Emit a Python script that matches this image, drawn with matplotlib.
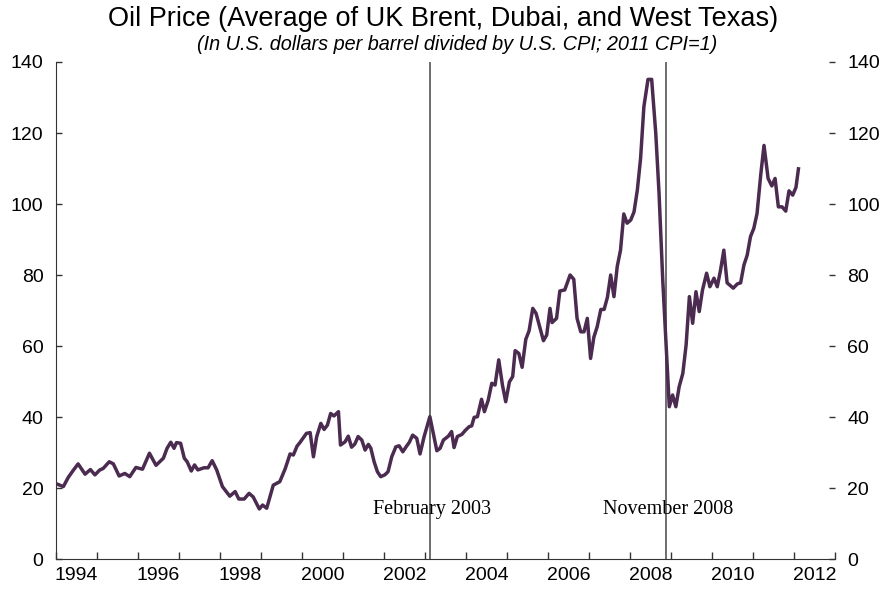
import numpy as np
import matplotlib.pyplot as plt

# monthly-ish readings, decimal year and real oil price (2011 dollars)
dates = [1994.03, 1994.18, 1994.30, 1994.41, 1994.54, 1994.71, 1994.84, 1994.95,
         1995.07, 1995.15, 1995.30, 1995.40, 1995.54, 1995.68, 1995.80, 1995.95,
         1996.11, 1996.28, 1996.44, 1996.62, 1996.71, 1996.80, 1996.88, 1996.94,
         1997.04, 1997.13, 1997.20, 1997.30, 1997.38, 1997.46, 1997.61, 1997.71,
         1997.81, 1997.92, 1998.06, 1998.24, 1998.37, 1998.46, 1998.59, 1998.71,
         1998.81, 1998.96, 1999.04, 1999.14, 1999.30, 1999.46, 1999.59, 1999.71,
         1999.79, 1999.88, 1999.95, 2000.11, 2000.20, 2000.28, 2000.36, 2000.46,
         2000.54, 2000.62, 2000.70, 2000.78, 2000.89, 2000.94, 2001.05, 2001.13,
         2001.21, 2001.29, 2001.37, 2001.46, 2001.54, 2001.62, 2001.68, 2001.76,
         2001.84, 2001.92, 2002.02, 2002.10, 2002.19, 2002.29, 2002.37, 2002.46,
         2002.54, 2002.62, 2002.70, 2002.80, 2002.88, 2002.98, 2003.12, 2003.29,
         2003.37, 2003.45, 2003.57, 2003.65, 2003.71, 2003.79, 2003.90, 2003.99,
         2004.08, 2004.14, 2004.20, 2004.28, 2004.38, 2004.45, 2004.54, 2004.63,
         2004.71, 2004.80, 2004.89, 2004.97, 2005.06, 2005.14, 2005.20, 2005.29,
         2005.37, 2005.46, 2005.54, 2005.63, 2005.71, 2005.89, 2005.97, 2006.05,
         2006.10, 2006.21, 2006.29, 2006.41, 2006.54, 2006.63, 2006.71, 2006.80,
         2006.88, 2006.96, 2007.04, 2007.12, 2007.20, 2007.29, 2007.37, 2007.45,
         2007.53, 2007.61, 2007.69, 2007.77, 2007.85, 2007.93, 2008.02, 2008.10,
         2008.18, 2008.26, 2008.34, 2008.44, 2008.53, 2008.63, 2008.71, 2008.80,
         2008.88, 2008.96, 2009.04, 2009.12, 2009.20, 2009.29, 2009.37, 2009.45,
         2009.53, 2009.61, 2009.69, 2009.77, 2009.87, 2009.95, 2010.05, 2010.13,
         2010.21, 2010.29, 2010.37, 2010.52, 2010.62, 2010.70, 2010.78, 2010.86,
         2010.94, 2011.02, 2011.10, 2011.19, 2011.27, 2011.37, 2011.46, 2011.54,
         2011.62, 2011.71, 2011.80, 2011.88, 2011.97, 2012.05, 2012.11]
price = [21.1, 20.4, 23.0, 24.8, 26.8, 23.9, 25.2, 23.7,
         25.1, 25.5, 27.4, 26.8, 23.4, 24.1, 23.2, 25.8,
         25.3, 29.8, 26.4, 28.4, 31.2, 32.9, 31.2, 32.8,
         32.6, 28.4, 27.4, 24.8, 26.5, 25.1, 25.7, 25.7,
         27.7, 25.1, 20.4, 17.7, 19.0, 16.9, 16.9, 18.5,
         17.5, 14.1, 15.2, 14.3, 20.8, 21.8, 25.4, 29.6,
         29.3, 31.8, 32.8, 35.4, 35.6, 28.8, 34.5, 38.2,
         36.5, 37.7, 41.0, 40.3, 41.5, 32.1, 33.0, 34.6,
         31.5, 32.4, 34.5, 33.5, 30.7, 32.3, 31.2, 27.4,
         24.6, 23.2, 23.7, 24.6, 28.8, 31.6, 31.9, 30.2,
         31.6, 32.9, 34.9, 34.0, 29.6, 34.5, 40.1, 30.5,
         31.2, 33.5, 34.6, 35.9, 31.4, 34.5, 35.1, 36.3,
         37.3, 37.5, 39.9, 40.1, 45.0, 41.5, 44.6, 49.5,
         49.0, 56.1, 49.0, 44.3, 49.9, 51.4, 58.7, 57.9,
         54.0, 61.9, 64.3, 70.6, 69.2, 61.5, 63.1, 70.6,
         66.6, 67.8, 75.5, 75.8, 80.0, 78.8, 67.8, 64.0,
         64.0, 67.8, 56.5, 62.5, 65.4, 70.3, 70.3, 73.7,
         80.0, 73.9, 82.4, 87.0, 97.2, 94.6, 95.5, 97.8,
         103.9, 112.9, 127.4, 135.1, 135.1, 119.9, 103.0, 78.6,
         60.8, 42.9, 46.2, 42.9, 48.5, 52.3, 60.3, 73.9,
         66.4, 75.3, 69.7, 75.8, 80.5, 76.7, 79.1, 76.7,
         81.4, 87.0, 77.8, 76.3, 77.5, 77.8, 82.8, 85.6,
         90.8, 93.1, 97.3, 108.2, 116.5, 107.2, 105.1, 107.2,
         99.2, 99.2, 98.0, 103.7, 102.5, 104.7, 109.9]

events = [2003 + 1.5 / 12, 2008 + 10.5 / 12]
event_labels = ["February 2003", "November 2008"]
year_labels = list(range(1994, 2013, 2))
y_ticks = [0, 20, 40, 60, 80, 100, 120, 140]

sans = ["Liberation Sans", "DejaVu Sans"]
serif = ["Liberation Serif", "DejaVu Serif"]

fig = plt.figure(figsize=(8.87, 5.91), dpi=100)
ax = fig.add_axes([0.0631, 0.0541, 0.8782, 0.841])

for ev in events:
    ax.axvline(ev, color="#555555", lw=1.2, zorder=1)
ax.plot(dates, price, color="#4b2b50", lw=2.5, zorder=3)

for ev, lab in zip(events, event_labels):
    ax.text(ev + 0.05, 14, lab, family=serif, fontsize=14.5, ha="center", va="center", zorder=2)

ax.set_xlim(1994, 2013)
ax.set_ylim(0, 140)

# year ticks at boundaries, labels in the middle of the year
ax.set_xticks(np.arange(1994, 2014))
ax.set_xticklabels([])
ax.set_xticks([y + 0.5 for y in year_labels], minor=True)
ax.set_xticklabels([str(y) for y in year_labels], minor=True, family=sans, fontsize=14)
ax.tick_params(axis="x", which="major", direction="in", length=5, width=1, color="#333333")
ax.tick_params(axis="x", which="minor", length=0, pad=6)

ax.set_yticks(y_ticks)
ax.set_yticklabels([str(v) for v in y_ticks], family=sans, fontsize=14)
ax.tick_params(axis="y", direction="in", length=4, width=1, color="#333333",
               left=True, right=True, labelleft=True, labelright=True, pad=9)

ax.spines["top"].set_visible(False)
ax.spines["right"].set_visible(False)
ax.spines["left"].set_color("#333333")
ax.spines["bottom"].set_color("#333333")

fig.text(0.4995, 1 - 19 / 591, "Oil Price (Average of UK Brent, Dubai, and West Texas)",
         family=sans, fontsize=19.5, ha="center", va="center")
fig.text(0.515, 1 - 45 / 591, "(In U.S. dollars per barrel divided by U.S. CPI; 2011 CPI=1)",
         family=sans, fontsize=14.3, style="italic", ha="center", va="center")

fig.savefig("out.png", dpi=100)
